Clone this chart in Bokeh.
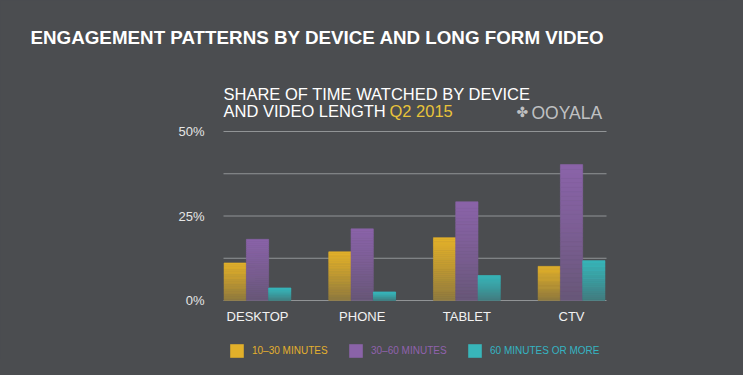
from bokeh.plotting import figure
from bokeh.models import (ColumnDataSource, Range1d, Label, Legend, LegendItem,
                          GlobalInlineStyleSheet)
from bokeh.core.properties import value
from bokeh.embed import file_html
from bokeh.resources import INLINE

# ---- data ----
devices = ["DESKTOP", "PHONE", "TABLET", "CTV"]
series_names = ["10\u201330 MINUTES", "30\u201360 MINUTES", "60 MINUTES OR MORE"]
short_vals = [11.1, 14.4, 18.6, 10.1]   # 10-30 minutes
mid_vals = [18.1, 21.2, 29.2, 40.2]     # 30-60 minutes
long_vals = [3.7, 2.5, 7.4, 11.8]       # 60 minutes or more
y_ticks = [0, 25, 50]
y_tick_labels = ["0%", "25%", "50%"]
grid_ticks = [0, 12.5, 25, 37.5, 50]

BG = "#4b4d50"
top_colors = ["#e2b02a", "#8a63a8", "#38b6ba"]
text_colors = ["#e4b02e", "#9062ad", "#35b4c2"]
FONT = "Liberation Sans"


def hex2rgb(h):
    h = h.lstrip("#")
    return tuple(int(h[i:i + 2], 16) for i in (0, 2, 4))


def blend(c1, c2, t):
    a, b = hex2rgb(c1), hex2rgb(c2)
    return "#%02x%02x%02x" % tuple(int(round(a[i] * (1 - t) + b[i] * t)) for i in range(3))


# ---- layout (pixels) ----
W, H = 727, 359
area_left_px, area_right_px = 223, 606     # plotting area inside the canvas
area_top_px, area_bottom_px = 131, 300
x_lo, x_hi = -0.325, 3.334                 # category axis extent of plotting area
y_lo, y_hi = 0, 50
xs = (area_right_px - area_left_px) / (x_hi - x_lo)
ys = (area_bottom_px - area_top_px) / (y_hi - y_lo)
x_range = Range1d(x_lo - area_left_px / xs, x_hi + (W - area_right_px) / xs)
y_range = Range1d(y_lo - (H - area_bottom_px) / ys, y_hi + area_top_px / ys)

p = figure(width=W, height=H, output_backend="svg", toolbar_location=None,
           x_range=x_range, y_range=y_range,
           min_border_left=0, min_border_right=0, min_border_top=0, min_border_bottom=0)
p.background_fill_color = BG
p.border_fill_color = BG
p.outline_line_color = None
p.axis.visible = False
p.grid.visible = False
p.stylesheets = [GlobalInlineStyleSheet(css="html, body { background: %s; }" % BG)]

# ---- grid lines ----
p.segment(x0=[x_lo] * len(grid_ticks), x1=[x_hi] * len(grid_ticks),
          y0=grid_ticks, y1=grid_ticks, line_color="#919496", line_width=1)

# ---- bars with vertical gradient (strips computed from the data) ----
bar_w = 0.213
offsets = [-bar_w, 0.0, bar_w]
N = 30
legend_renderers = []
for si, vals in enumerate([short_vals, mid_vals, long_vals]):
    left, right, bottom, top, colors = [], [], [], [], []
    for di, v in enumerate(vals):
        cx = di + offsets[si]
        for k in range(N):
            frac = 1 - (k + 0.5) / N   # 0 at top, 1 at bottom
            left.append(cx - bar_w / 2)
            right.append(cx + bar_w / 2)
            bottom.append(v * k / N)
            top.append(v * (k + 1) / N)
            colors.append(blend(top_colors[si], BG, 0.55 * frac ** 1.2))
    src = ColumnDataSource(dict(left=left, right=right, bottom=bottom, top=top, color=colors))
    p.quad(left="left", right="right", bottom="bottom", top="top", source=src,
           fill_color="color", line_color="color", line_width=0.6)
    r = p.quad(left=[0], right=[0], bottom=[0], top=[0], fill_color=top_colors[si],
               line_color=None)
    legend_renderers.append(r)

# ---- axis labels ----
p.text(x=[x_lo] * len(y_ticks), y=y_ticks, text=y_tick_labels, x_offset=-19,
       text_align="right", text_baseline="middle", text_font=value(FONT),
       text_font_size="13px", text_color="#e6e6e6")
p.text(x=list(range(len(devices))), y=[0] * len(devices), text=devices, y_offset=8,
       text_align="center", text_baseline="top", text_font=value(FONT),
       text_font_size="13px", text_color="#f2f2f2")

# ---- legends ----
legend_x = [228, 347, 466]
for si, r in enumerate(legend_renderers):
    lg = Legend(items=[LegendItem(label=series_names[si], renderers=[r])],
                location=(legend_x[si], 0), orientation="horizontal",
                glyph_width=17, glyph_height=17, label_standoff=7,
                padding=0, margin=0, spacing=0,
                background_fill_alpha=0, border_line_color=None,
                label_text_font=FONT, label_text_font_size="10px",
                label_text_color=text_colors[si], label_height=17)
    p.add_layout(lg, "center")


# ---- titles / texts ----
def lab(x, y, text, size, color, font=FONT, style="normal"):
    p.add_layout(Label(x=x, y=y, x_units="screen", y_units="screen", text=text,
                       text_font=font, text_font_style=style, text_font_size=size,
                       text_color=color, text_baseline="alphabetic"))


lab(30, 322, "ENGAGEMENT PATTERNS BY DEVICE AND LONG FORM VIDEO", "18.8px", "#ffffff",
    style="bold")
lab(223, 266, "SHARE OF TIME WATCHED BY DEVICE", "16.5px", "#ffffff")
lab(223, 249, "AND VIDEO LENGTH", "16.5px", "#ffffff")
lab(389, 249, "Q2 2015", "16.5px", "#e8c33a")
lab(516, 248, "\u2724", "14px", "#bfc0c2", font="DejaVu Sans")
lab(531, 247, "OOYALA", "17.5px", "#bfc0c2")

open("out.html", "w").write(file_html(p, INLINE))
